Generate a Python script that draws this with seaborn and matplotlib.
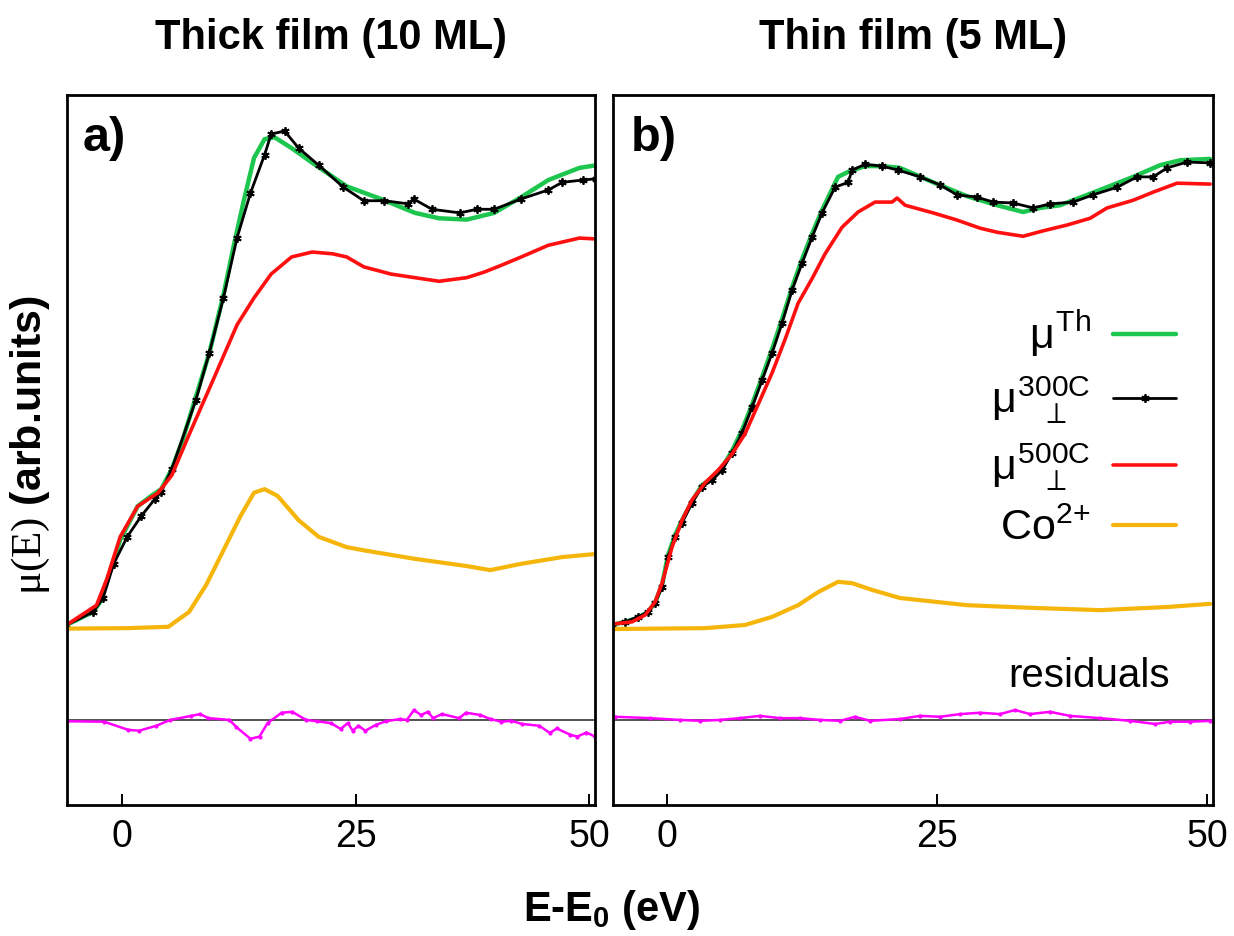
import numpy as np
import pandas as pd
import seaborn as sns
import matplotlib.pyplot as plt

# ---- thick film (10 ML), panel a ----
th_thick_e = [-5.96, -3.11, -2.36, -1.29, -0.21, 1.66, 3.11, 4.18, 5.32, 6.44, 7.89, 9.33, 10.84, 11.91, 12.98, 14.11,
              15.24, 16.31, 18.13, 20.71, 24.03, 27.68, 31.33, 33.91, 36.86, 39.81, 42.70, 45.60, 48.93, 50.75]
th_thick_mu = [0.0, 0.029, 0.051, 0.120, 0.189, 0.264, 0.287, 0.302, 0.347, 0.409, 0.507, 0.605, 0.734, 0.840, 0.940, 1.038,
               1.080, 1.084, 1.060, 1.022, 0.975, 0.947, 0.916, 0.904, 0.901, 0.916, 0.951, 0.989, 1.016, 1.022]

c300_thick_e = [-5.96, -3.11, -2.04, -0.90, 0.54, 2.04, 3.50, 4.18, 5.32, 7.89, 9.33, 10.84, 12.29, 13.73, 15.24, 15.94,
                17.38, 18.88, 21.03, 23.67, 25.86, 28.07, 30.63, 31.18, 33.15, 36.13, 37.96, 39.81, 42.70, 45.60,
                47.10, 49.31, 50.75]
c300_thick_mu = [0.0, 0.029, 0.060, 0.136, 0.196, 0.242, 0.280, 0.296, 0.347, 0.500, 0.605, 0.727, 0.860, 0.960, 1.045,
                 1.091, 1.098, 1.060, 1.022, 0.973, 0.943, 0.943, 0.936, 0.947, 0.924, 0.916, 0.924, 0.924, 0.947, 0.967,
                 0.984, 0.989, 0.992]

c500_thick_e = [-5.96, -2.74, -1.61, -0.21, 1.66, 3.86, 5.32, 7.16, 9.72, 12.29, 14.11, 15.94, 18.13, 20.34, 22.53,
                24.03, 25.86, 28.76, 31.33, 33.91, 36.86, 38.69, 40.51, 42.70, 45.60, 48.93, 50.75]
c500_thick_mu = [0.0, 0.044, 0.104, 0.196, 0.264, 0.294, 0.333, 0.423, 0.544, 0.667, 0.727, 0.780, 0.818, 0.829, 0.825,
                 0.818, 0.796, 0.780, 0.772, 0.764, 0.772, 0.784, 0.799, 0.818, 0.844, 0.860, 0.858]

co_thick_e = [-5.96, 0.54, 4.94, 7.16, 8.99, 10.84, 12.66, 14.11, 15.24, 16.63, 18.88, 21.03, 24.03, 25.86, 31.33,
              36.86, 39.38, 42.70, 47.10, 50.75]
co_thick_mu = [-0.008, -0.007, -0.004, 0.029, 0.089, 0.166, 0.242, 0.294, 0.302, 0.287, 0.233, 0.196, 0.173, 0.166,
               0.147, 0.131, 0.122, 0.136, 0.151, 0.158]

res_thick_e = [-5.94, -1.93, 0.64, 1.82, 3.65, 5.15, 7.40, 8.33, 9.23, 11.48, 12.23, 13.73, 14.70, 15.56, 17.06, 18.20,
               19.69, 20.82, 22.32, 23.39, 24.14, 24.68, 25.28, 26.02, 27.15, 28.22, 29.72, 30.47, 31.22, 31.97, 32.73,
               33.26, 34.23, 36.05, 36.80, 38.30, 39.43, 40.56, 41.63, 42.81, 44.64, 45.77, 46.51, 47.96, 48.71, 49.68,
               50.61]
res_thick = [-0.003, -0.004, -0.022, -0.024, -0.013, 0.0, 0.009, 0.013, 0.004, 0.0, -0.016, -0.042, -0.037, -0.007,
             0.016, 0.018, 0.0, -0.003, -0.007, -0.02, -0.007, -0.024, -0.013, -0.024, -0.011, -0.003, 0.002, 0.0,
             0.022, 0.011, 0.018, 0.004, 0.013, 0.004, 0.016, 0.011, 0.002, -0.004, -0.002, -0.009, -0.013, -0.029,
             -0.019, -0.033, -0.037, -0.028, -0.037]

# ---- thin film (5 ML), panel b ----
th_thin_e = [-5.09, -3.89, -2.69, -1.76, -1.11, -0.46, 0.09, 0.74, 1.39, 2.31, 3.24, 4.17, 5.09, 6.02, 6.94, 7.87, 8.80,
             9.72, 10.65, 11.57, 12.50, 13.43, 14.35, 15.83, 16.76, 18.33, 19.91, 21.57, 24.63, 27.78, 30.56, 32.96,
             34.54, 36.39, 40.09, 43.15, 45.65, 47.50, 50.28]
th_thin_mu = [0.0, 0.007, 0.016, 0.029, 0.05, 0.09, 0.155, 0.20, 0.233, 0.275, 0.311, 0.327, 0.35, 0.387, 0.433, 0.49,
              0.551, 0.613, 0.68, 0.75, 0.813, 0.87, 0.922, 0.996, 1.007, 1.02, 1.02, 1.016, 0.984, 0.953, 0.933, 0.918,
              0.927, 0.933, 0.967, 0.996, 1.022, 1.033, 1.036]

c300_thin_e = [-5.09, -3.89, -2.69, -1.76, -1.11, -0.46, 0.09, 0.74, 1.39, 2.31, 3.24, 4.17, 5.09, 6.02, 6.94, 7.87,
               8.80, 9.72, 10.65, 11.57, 12.50, 13.43, 14.35, 15.56, 16.76, 17.13, 18.33, 19.91, 21.39, 23.43, 25.28,
               26.85, 28.70, 30.19, 32.04, 33.89, 35.46, 37.59, 39.44, 41.67, 43.52, 45.00, 46.30, 48.15, 50.28]
c300_thin_mu = [0.0, 0.007, 0.018, 0.029, 0.049, 0.084, 0.151, 0.196, 0.227, 0.271, 0.307, 0.322, 0.344, 0.382, 0.427,
                0.484, 0.544, 0.604, 0.671, 0.744, 0.804, 0.862, 0.916, 0.973, 0.984, 1.011, 1.024, 1.020, 1.011, 0.996,
                0.978, 0.956, 0.951, 0.940, 0.938, 0.927, 0.936, 0.940, 0.956, 0.973, 0.996, 0.996, 1.016, 1.029, 1.027]

c500_thin_e = [-5.09, -3.24, -2.04, -1.11, -0.46, 0.46, 1.39, 2.31, 3.52, 4.72, 6.02, 7.22, 8.43, 9.72, 10.93, 12.13,
               13.43, 14.63, 16.20, 17.69, 19.26, 20.83, 21.30, 22.04, 24.63, 26.85, 28.98, 30.56, 32.96, 34.81, 37.04,
               39.17, 40.74, 43.15, 45.00, 47.22, 50.28]
c500_thin_mu = [0.002, 0.007, 0.022, 0.051, 0.093, 0.173, 0.233, 0.278, 0.316, 0.344, 0.380, 0.425, 0.490, 0.560, 0.635,
                0.715, 0.770, 0.825, 0.884, 0.918, 0.940, 0.940, 0.949, 0.933, 0.916, 0.900, 0.882, 0.873, 0.864, 0.876,
                0.889, 0.904, 0.927, 0.944, 0.962, 0.982, 0.980]

co_thin_e = [-5.09, 3.52, 7.22, 9.72, 12.13, 13.98, 15.83, 17.13, 18.98, 21.57, 27.78, 33.89, 40.09, 46.30, 50.28]
co_thin_mu = [-0.009, -0.007, 0.0, 0.018, 0.044, 0.073, 0.096, 0.093, 0.078, 0.060, 0.044, 0.038, 0.033, 0.040, 0.047]

res_thin_e = [-4.81, -1.57, 1.20, 3.06, 4.91, 6.76, 8.61, 10.46, 12.31, 14.17, 16.02, 17.41, 18.80, 21.57, 23.43, 25.28,
              27.13, 28.98, 30.83, 32.22, 33.61, 35.46, 37.31, 40.09, 42.87, 45.19, 46.57, 48.43, 50.28]
res_thin = [0.007, 0.004, 0.0, -0.002, 0.0, 0.004, 0.009, 0.004, 0.004, 0.0, -0.002, 0.007, -0.002, 0.002, 0.009, 0.007,
            0.013, 0.016, 0.013, 0.022, 0.013, 0.018, 0.009, 0.004, -0.002, -0.009, -0.004, -0.004, -0.002]

res_offset = -0.211
labels = [r'$\mu^{\mathrm{Th}}$', r'$\mu^{\mathrm{300C}}_{\quad\perp}$', r'$\mu^{\mathrm{500C}}_{\quad\perp}$',
          r'$\mathrm{Co}^{2{+}}$']
titles = ['Thick film (10 ML)', 'Thin film (5 ML)']

sns.set_theme(style='white')
plt.rcParams['font.family'] = ['Liberation Sans', 'DejaVu Sans']
plt.rcParams['text.color'] = 'black'
plt.rcParams['xtick.color'] = 'black'
plt.rcParams['mathtext.fontset'] = 'custom'
plt.rcParams['mathtext.rm'] = 'Liberation Sans'
plt.rcParams['mathtext.it'] = 'Liberation Sans'
plt.rcParams['mathtext.sf'] = 'Liberation Serif'   # used for the serif mu(E) on the y label
plt.rcParams['mathtext.bf'] = 'Liberation Sans:bold'

fig = plt.figure(figsize=(12.34, 9.36), dpi=100)
ax_a = fig.add_axes([0.0543, 0.14, 0.4279, 0.7585])
ax_b = fig.add_axes([0.4968, 0.14, 0.4862, 0.7585])


def draw_panel(ax, th, c300, c500, co, res, xlim, tag, title):
    sns.lineplot(x=th[0], y=th[1], ax=ax, color='#1dc64e', lw=3.2, label=labels[0], sort=False)
    sns.lineplot(x=c300[0], y=c300[1], ax=ax, color='black', lw=2.0, marker=(6, 2, 0), markersize=6,
                 markeredgewidth=1.3, markeredgecolor='black', label=labels[1], sort=False)
    sns.lineplot(x=c500[0], y=c500[1], ax=ax, color='#ff1010', lw=2.6, label=labels[2], sort=False)
    sns.lineplot(x=co[0], y=co[1], ax=ax, color='#f5b50a', lw=3.0, label=labels[3], sort=False)
    ax.axhline(res_offset, color='#444444', lw=1.3)
    sns.lineplot(x=res[0], y=np.array(res[1]) + res_offset, ax=ax, color='#ff00ff', lw=1.8,
                 marker='o', markersize=3, markeredgewidth=0, sort=False)
    ax.set_xlim(*xlim)
    ax.set_ylim(-0.4, 1.178)
    ax.set_xticks([0, 25, 50])
    ax.set_yticks([])
    ax.set_xlabel('')
    ax.set_ylabel('')
    ax.tick_params(axis='x', direction='in', length=8, width=1.4, labelsize=27, pad=10, colors='black',
                   bottom=True)
    for sp in ax.spines.values():
        sp.set_color('black')
        sp.set_linewidth(2)
    ax.set_title(title, fontsize=30, fontweight='bold', pad=33)
    ax.text(0.03, 0.97, tag, transform=ax.transAxes, fontsize=35, fontweight='bold', va='top', ha='left')


draw_panel(ax_a, (th_thick_e, th_thick_mu), (c300_thick_e, c300_thick_mu), (c500_thick_e, c500_thick_mu),
           (co_thick_e, co_thick_mu), (res_thick_e, res_thick), (-5.9, 50.6), 'a)', titles[0])
draw_panel(ax_b, (th_thin_e, th_thin_mu), (c300_thin_e, c300_thin_mu), (c500_thin_e, c500_thin_mu),
           (co_thin_e, co_thin_mu), (res_thin_e, res_thin), (-5.0, 50.55), 'b)', titles[1])

ax_a.get_legend().remove()
handles, labs = ax_b.get_legend_handles_labels()
ax_b.legend(handles[:4], labs[:4], loc='center right', bbox_to_anchor=(0.938, 0.53), frameon=False,
            markerfirst=False, fontsize=31, handlelength=1.45, handletextpad=0.53, labelspacing=0.35,
            borderpad=0, borderaxespad=0, numpoints=1)

ax_b.text(0.928, 0.182, 'residuals', transform=ax_b.transAxes, fontsize=29, ha='right', va='center')

fig.text(0.496, 0.028, r'E-E$_{\mathbf{0}}$ (eV)', fontsize=30, fontweight='bold', ha='center', va='center')
fig.text(0.025, 0.525, r'$\mathsf{\mu(E)}$ (arb.units)', fontsize=31, fontweight='bold', rotation=90,
         ha='center', va='center')

plt.savefig('out.png', dpi=100)
